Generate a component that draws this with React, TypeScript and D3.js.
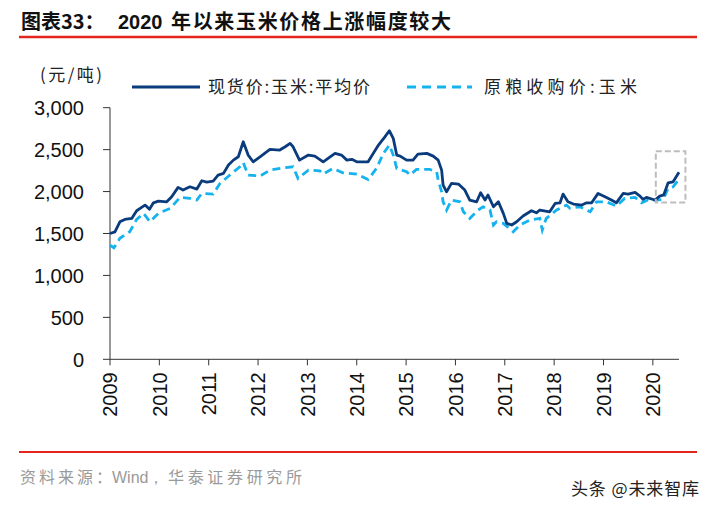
import { useEffect } from 'react';
import * as d3 from 'd3';

// values (decimal year, 元/吨)
const spotYears = [
  2009.0, 2009.1, 2009.2, 2009.3, 2009.44, 2009.54, 2009.64, 2009.71, 2009.8, 2009.88,
  2009.98, 2010.15, 2010.25, 2010.38, 2010.48, 2010.62, 2010.76, 2010.86, 2010.96, 2011.09,
  2011.19, 2011.3, 2011.4, 2011.5, 2011.6, 2011.7, 2011.8, 2011.9, 2012.04, 2012.24,
  2012.44, 2012.55, 2012.65, 2012.71, 2012.84, 2013.02, 2013.15, 2013.32, 2013.56, 2013.69,
  2013.8, 2013.9, 2014.0, 2014.23, 2014.44, 2014.57, 2014.66, 2014.74, 2014.81, 2014.88,
  2015.01, 2015.14, 2015.24, 2015.42, 2015.55, 2015.65, 2015.72, 2015.75, 2015.82, 2015.92,
  2016.06, 2016.19, 2016.29, 2016.43, 2016.51, 2016.6, 2016.66, 2016.77, 2016.87, 2016.97,
  2017.04, 2017.14, 2017.24, 2017.37, 2017.54, 2017.64, 2017.71, 2017.91, 2018.02, 2018.12,
  2018.18, 2018.28, 2018.39, 2018.56, 2018.66, 2018.76, 2018.89, 2019.03, 2019.16, 2019.26,
  2019.4, 2019.5, 2019.64, 2019.74, 2019.8, 2019.87, 2020.04, 2020.14, 2020.22, 2020.31,
  2020.41, 2020.53,
];
const spotValues = [
  1500, 1520, 1640, 1668, 1680, 1771, 1811, 1839, 1788, 1866,
  1886, 1878, 1938, 2050, 2018, 2057, 2030, 2129, 2113, 2125,
  2197, 2217, 2316, 2375, 2415, 2594, 2435, 2355, 2415, 2503,
  2495, 2534, 2574, 2534, 2375, 2435, 2423, 2355, 2455, 2435,
  2375, 2384, 2355, 2355, 2554, 2653, 2725, 2634, 2435, 2423,
  2375, 2375, 2447, 2455, 2423, 2375, 2256, 2077, 1997, 2098,
  2090, 2018, 1899, 1878, 1986, 1899, 1958, 1819, 1878, 1740,
  1621, 1601, 1640, 1708, 1771, 1747, 1780, 1759, 1859, 1866,
  1970, 1878, 1851, 1839, 1866, 1866, 1978, 1938, 1899, 1866,
  1978, 1970, 1990, 1946, 1907, 1931, 1899, 1946, 1960, 2105,
  2117, 2229,
];

const grainYears = [
  2009.0, 2009.08, 2009.2, 2009.4, 2009.54, 2009.68, 2009.81, 2009.98, 2010.22, 2010.42,
  2010.62, 2010.76, 2010.86, 2011.09, 2011.23, 2011.43, 2011.63, 2011.7, 2011.8, 2012.04,
  2012.24, 2012.51, 2012.71, 2012.81, 2013.02, 2013.25, 2013.32, 2013.52, 2013.72, 2014.0,
  2014.23, 2014.4, 2014.54, 2014.66, 2014.74, 2014.81, 2015.01, 2015.08, 2015.21, 2015.48,
  2015.62, 2015.65, 2015.72, 2015.75, 2015.82, 2015.92, 2016.09, 2016.16, 2016.29, 2016.46,
  2016.56, 2016.7, 2016.77, 2016.83, 2016.97, 2017.17, 2017.31, 2017.51, 2017.71, 2017.76,
  2017.84, 2018.05, 2018.25, 2018.32, 2018.52, 2018.73, 2018.86, 2019.06, 2019.26, 2019.43,
  2019.64, 2019.77, 2019.9, 2020.07, 2020.21, 2020.31, 2020.41, 2020.53,
];
const grainValues = [
  1360, 1330, 1442, 1521, 1668, 1740, 1640, 1740, 1800, 1931,
  1919, 1899, 1978, 1970, 2098, 2197, 2296, 2345, 2197, 2185,
  2256, 2284, 2296, 2157, 2256, 2248, 2209, 2276, 2224, 2209,
  2145, 2276, 2455, 2554, 2435, 2276, 2236, 2197, 2264, 2264,
  2236, 2137, 1997, 1878, 1780, 1899, 1878, 1759, 1680, 1780,
  1819, 1780, 1601, 1640, 1621, 1521, 1601, 1660, 1680, 1541,
  1680, 1780, 1839, 1800, 1819, 1759, 1878, 1878, 1827, 1919,
  1931, 1866, 1899, 1899, 1907, 2038, 2057, 2145,
];

const yTicks = [0, 500, 1000, 1500, 2000, 2500, 3000];
const xTicks = [2009, 2010, 2011, 2012, 2013, 2014, 2015, 2016, 2017, 2018, 2019, 2020];
const highlight = { from: 2020.06, to: 2020.66, low: 1870, high: 2480 };

const seriesNames = ['现货价:玉米:平均价', '原粮收购价:玉米'];
const titleLabel = '图表33：';
const titleYear = '2020';
const titleText = '年以来玉米价格上涨幅度较大';
const sourceParts = ['资料来源：', 'Wind，', '华泰证券研究所'];
const watermark = '头条 @未来智库';

const NAVY = '#0a3c7d';
const CYAN = '#14b2ee';
const RED = '#e3261b';
const CJK = '"Noto Sans CJK SC", sans-serif';
const LATIN = '"Liberation Sans", Arial, sans-serif';

export default function App() {
  useEffect(() => {
    document.body.style.margin = '0';
  }, []);

  const x = d3.scaleLinear().domain([2009, 2020.53]).range([110, 679]);
  const y = d3.scaleLinear().domain([0, 3000]).range([359.3, 107.7]);

  const line = d3
    .line<[number, number]>()
    .x((d) => x(d[0]))
    .y((d) => y(d[1]));

  const spot = spotYears.map((t, i) => [t, spotValues[i]] as [number, number]);
  const grain = grainYears.map((t, i) => [t, grainValues[i]] as [number, number]);

  return (
    <svg width={714} height={510} style={{ display: 'block', background: '#fff' }}>
      {/* title */}
      <text x={21} y={29} fontFamily={CJK} fontWeight="bold" fontSize={20} fill="#111">
        {titleLabel}
      </text>
      <text x={118} y={29} fontFamily={LATIN} fontWeight="bold" fontSize={20} fill="#111">
        {titleYear}
      </text>
      <text x={171} y={29} fontFamily={CJK} fontWeight="bold" fontSize={20} fill="#111" textLength={280} lengthAdjust="spacing">
        {titleText}
      </text>
      <line x1={19} x2={697} y1={37} y2={37} stroke={RED} strokeWidth={2.4} />

      <text x={40} y={81} fontFamily={CJK} fontSize={17} fill="#222" textLength={62} lengthAdjust="spacing">
        (元/吨)
      </text>

      {/* legend */}
      <line x1={132} x2={200} y1={87} y2={87} stroke={NAVY} strokeWidth={3} />
      <text x={208} y={93} fontFamily={CJK} fontSize={17} fill="#222" textLength={162} lengthAdjust="spacing">
        {seriesNames[0]}
      </text>
      <line x1={407} x2={472} y1={87} y2={87} stroke={CYAN} strokeWidth={3} strokeDasharray="9,6" />
      <text x={484} y={93} fontFamily={CJK} fontSize={17} fill="#222" textLength={153} lengthAdjust="spacing">
        {seriesNames[1]}
      </text>

      {/* y axis */}
      <line x1={110} x2={110} y1={y(3000)} y2={y(0)} stroke="#333" strokeWidth={1} />
      {yTicks.map((t) => (
        <g key={t} transform={`translate(0,${y(t)})`}>
          <line x1={103} x2={110} stroke="#333" strokeWidth={1} />
          <text x={84} dy="0.36em" textAnchor="end" fontFamily={LATIN} fontSize={20} fill="#111">
            {d3.format(',')(t)}
          </text>
        </g>
      ))}

      {/* x axis */}
      <line x1={110} x2={679} y1={y(0)} y2={y(0)} stroke="#333" strokeWidth={1} />
      {xTicks.map((t) => (
        <g key={t} transform={`translate(${x(t)},${y(0)})`}>
          <line y2={6} stroke="#333" strokeWidth={1} />
          <text
            transform="translate(0,13) rotate(-90)"
            dy="0.36em"
            textAnchor="end"
            fontFamily={LATIN}
            fontSize={20}
            fill="#111"
          >
            {t}
          </text>
        </g>
      ))}

      <path d={line(grain) || ''} fill="none" stroke={CYAN} strokeWidth={2.8} strokeDasharray="8,5" />
      <path d={line(spot) || ''} fill="none" stroke={NAVY} strokeWidth={2.8} strokeLinejoin="round" />

      <rect
        x={x(highlight.from)}
        y={y(highlight.high)}
        width={x(highlight.to) - x(highlight.from)}
        height={y(highlight.low) - y(highlight.high)}
        fill="none"
        stroke="#bdbdbd"
        strokeWidth={2}
        strokeDasharray="6,3"
      />

      {/* footer */}
      <line x1={19} x2={697} y1={452} y2={452} stroke={RED} strokeWidth={2} />
      <text y={483} fontFamily={CJK} fontSize={16} fill="#9a9a9a">
        <tspan x={20} textLength={92} lengthAdjust="spacing">{sourceParts[0]}</tspan>
        <tspan x={112} fontFamily={LATIN}>{sourceParts[1]}</tspan>
        <tspan x={168} textLength={134} lengthAdjust="spacing">{sourceParts[2]}</tspan>
      </text>
      <text x={571} y={495} fontFamily={CJK} fontSize={17} fill="#222" textLength={128} lengthAdjust="spacing">
        {watermark}
      </text>
    </svg>
  );
}
